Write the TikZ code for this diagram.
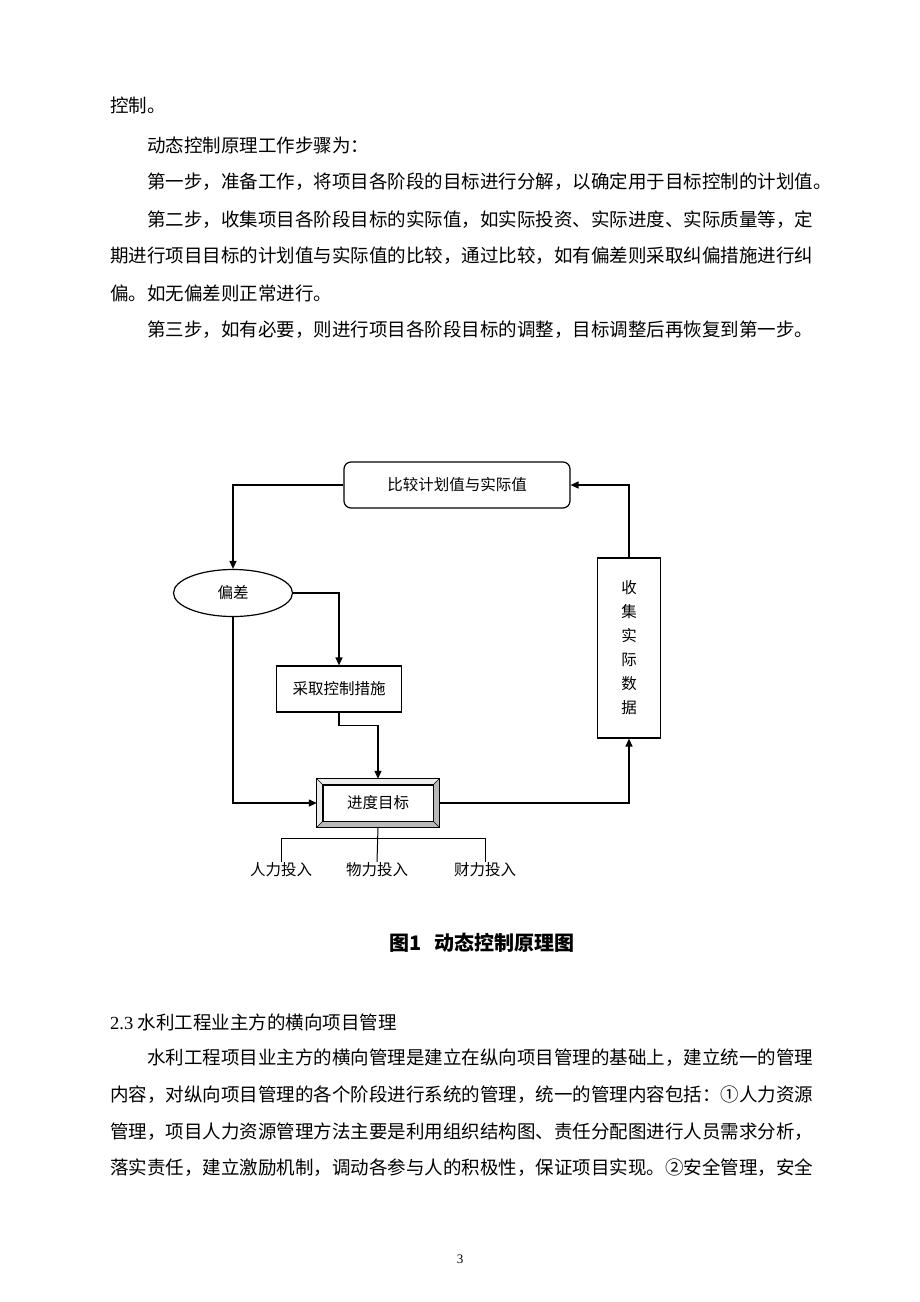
\documentclass[tikz,border=0pt]{standalone}
\usepackage{fontspec}
\setmainfont{Liberation Serif}
\newfontfamily\cjk{Noto Sans CJK SC}
\usetikzlibrary{shapes.geometric,arrows.meta}
\tikzset{
  body/.style={anchor=west, inner sep=0pt, font=\fontsize{18.5}{18.5}\selectfont\cjk},
  diabox/.style={draw, line width=1.2pt, minimum width=#1, minimum height=46pt, font=\fontsize{15.5}{15.5}\selectfont\cjk},
  flow/.style={line width=1.3pt, -{Triangle[length=8pt,width=7pt]}},
  feed/.style={anchor=north, inner sep=0pt, font=\fontsize{15.5}{15.5}\selectfont\cjk}
}
\begin{document}
\begin{tikzpicture}[x=1pt,y=-1pt]
\useasboundingbox (0,0) rectangle (920,1302);
% text above
\node[body] (t1) at (110,105) {控制。};
\node[body] (t2) at (147,145) {动态控制原理工作步骤为：};
\node[body] (t3) at (147,182) {第一步，准备工作，将项目各阶段的目标进行分解，以确定用于目标控制的计划值。};
\node[body] (t4) at (147,220) {第二步，收集项目各阶段目标的实际值，如实际投资、实际进度、实际质量等，定};
\node[body] (t5) at (110,256) {期进行项目目标的计划值与实际值的比较，通过比较，如有偏差则采取纠偏措施进行纠};
\node[body] (t6) at (110,293) {偏。如无偏差则正常进行。};
\node[body] (t7) at (147,330) {第三步，如有必要，则进行项目各阶段目标的调整，目标调整后再恢复到第一步。};
% diagram
\node[diabox=226pt, rounded corners=7pt] (cmp) at (457,485) {比较计划值与实际值};
\node[draw, line width=1.2pt, ellipse, minimum width=119pt, minimum height=47pt, font=\fontsize{15.5}{15.5}\selectfont\cjk] (dev) at (233,593) {偏差};
\node[diabox=125pt] (act) at (339,689) {采取控制措施};
\node[draw, line width=1.2pt, minimum width=63pt, minimum height=180pt, align=center, font=\fontsize{15.5}{24}\selectfont\cjk] (col) at (629,648) {收\\集\\实\\际\\数\\据};
\node[draw, fill=gray!55, minimum width=122pt, minimum height=48pt] (goal) at (378,803) {};
\node[draw, fill=white, minimum width=110pt, minimum height=36pt, font=\fontsize{15.5}{15.5}\selectfont\cjk] (goalin) at (goal) {进度目标};
\fill[gray!15] (goal.north west) -- (goalin.north west) -- (goalin.south west) -- (goal.south west) -- cycle;
\fill[gray!15] (goal.north west) -- (goalin.north west) -- (goalin.north east) -- (goal.north east) -- cycle;
\draw (goal.north west) -- (goalin.north west) (goal.south west) -- (goalin.south west)
  (goal.north east) -- (goalin.north east) (goal.south east) -- (goalin.south east);
\draw[line width=1.3pt] (goal.north west) rectangle (goal.south east);
\draw[line width=1.1pt] (goalin.north west) rectangle (goalin.south east);
% connectors
\draw[flow] (cmp.west) -| (dev.north);
\draw[flow] (dev.east) -| (act.north);
\draw[flow] (dev.south) |- (goal.west);
\draw[flow] (act.south) -- ++(0,13) -| (goal.north);
\draw[flow] (goal.east) -| (col.south);
\draw[flow] (col.north) |- (cmp.east);
% inputs
\node[feed] (man) at (281,862) {人力投入};
\node[feed] (mat) at (377,862) {物力投入};
\node[feed] (fin) at (485,862) {财力投入};
\coordinate (bus) at (378,838);
\draw[line width=1pt] (goal.south) -- (mat.north);
\draw[line width=1pt] (man.north) |- (bus) -| (fin.north);
% caption and text below
\node[inner sep=0pt, font=\fontsize{20}{20}\selectfont\cjk\bfseries] (cap) at (482,943) {图1\hspace{0.6em}动态控制原理图};
\node[body] (s1) at (110,1022) {{\rmfamily 2.3 }水利工程业主方的横向项目管理};
\node[body] (p1) at (147,1058) {水利工程项目业主方的横向管理是建立在纵向项目管理的基础上，建立统一的管理};
\node[body] (p2) at (110,1095) {内容，对纵向项目管理的各个阶段进行系统的管理，统一的管理内容包括：①人力资源};
\node[body] (p3) at (110,1132) {管理，项目人力资源管理方法主要是利用组织结构图、责任分配图进行人员需求分析，};
\node[body] (p4) at (110,1168) {落实责任，建立激励机制，调动各参与人的积极性，保证项目实现。②安全管理，安全};
\node[inner sep=0pt, font=\fontsize{13}{13}\selectfont] (pg) at (460,1259) {3};
\end{tikzpicture}
\end{document}
